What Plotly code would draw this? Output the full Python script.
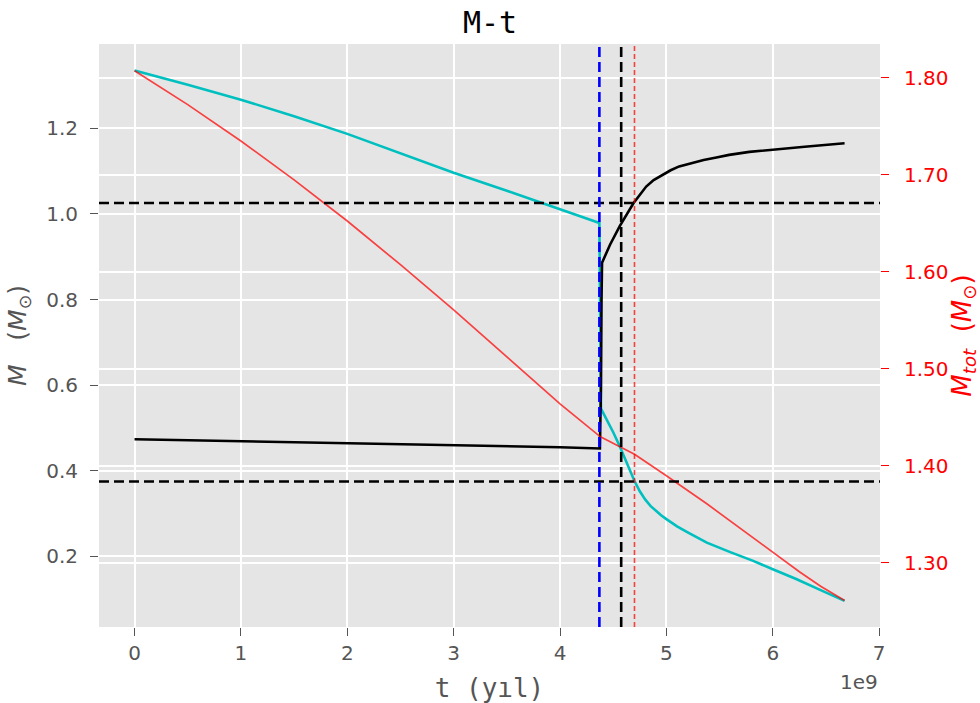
import plotly.graph_objects as go

# ---- data (time in units of 1e9 yr) ----
t_cyan = [0, 0.5, 1.0, 1.5, 2.0, 2.5, 3.0, 3.5, 3.84, 4.37, 4.385, 4.45, 4.5, 4.56,
          4.63, 4.70, 4.75, 4.80, 4.85, 4.90, 4.95, 5.0, 5.1, 5.2, 5.3, 5.38, 5.6,
          5.81, 6.0, 6.22, 6.45, 6.675]
m_cyan = [1.335, 1.302, 1.267, 1.228, 1.187, 1.142, 1.096, 1.054, 1.025, 0.979, 0.545,
          0.515, 0.490, 0.458, 0.418, 0.376, 0.352, 0.333, 0.318, 0.306, 0.296, 0.287,
          0.270, 0.256, 0.243, 0.232, 0.210, 0.190, 0.170, 0.147, 0.121, 0.096]

t_black = [0, 1, 2, 3, 4, 4.375, 4.385, 4.39, 4.395, 4.47, 4.56, 4.69, 4.75, 4.81,
           4.88, 4.97, 5.04, 5.12, 5.23, 5.35, 5.47, 5.59, 5.78, 5.97, 6.3, 6.675]
m_black = [0.4735, 0.469, 0.464, 0.459, 0.455, 0.452, 0.60, 0.80, 0.886, 0.928, 0.971,
           1.025, 1.046, 1.064, 1.079, 1.093, 1.102, 1.111, 1.119, 1.126, 1.132, 1.138,
           1.145, 1.150, 1.157, 1.165]

t_red = [0, 0.5, 1.0, 1.5, 2.0, 2.5, 3.0, 3.5, 4.0, 4.38, 4.56, 4.70, 4.85, 5.0,
         5.38, 5.85, 6.05, 6.25, 6.45, 6.675]
m_tot = [1.8075, 1.7725, 1.735, 1.695, 1.6525, 1.6075, 1.561, 1.513, 1.464, 1.430,
         1.420, 1.412, 1.401, 1.390, 1.361, 1.323, 1.307, 1.291, 1.276, 1.2614]

h_lines = [1.0255, 0.375]          # horizontal reference masses (left axis)
t_vline_blue = 4.37
t_vline_black = 4.575
t_vline_red = 4.70

x_ticks = [0, 1, 2, 3, 4, 5, 6, 7]
y_ticks = [0.2, 0.4, 0.6, 0.8, 1.0, 1.2]
y2_ticks = [1.30, 1.40, 1.50, 1.60, 1.70, 1.80]

SCALE = 1e9
GRAY = "#555555"
RED = "rgba(255,0,0,0.72)"
NB = "\u00a0"

fig = go.Figure()
fig.add_trace(go.Scatter(x=[t * SCALE for t in t_cyan], y=m_cyan, mode="lines",
                         line=dict(color="#00BFBF", width=2.6), showlegend=False))
fig.add_trace(go.Scatter(x=[t * SCALE for t in t_black], y=m_black, mode="lines",
                         line=dict(color="black", width=2.6), showlegend=False))
fig.add_trace(go.Scatter(x=[t * SCALE for t in t_red], y=m_tot, mode="lines",
                         yaxis="y2", line=dict(color=RED, width=1.7), showlegend=False))

shapes = []
for h in h_lines:
    shapes.append(dict(type="line", xref="paper", x0=0, x1=1, yref="y", y0=h, y1=h,
                       line=dict(color="black", width=2.6, dash="10px,5px")))
shapes.append(dict(type="line", xref="x", x0=t_vline_blue * SCALE, x1=t_vline_blue * SCALE,
                   yref="paper", y0=0, y1=1,
                   line=dict(color="#0000FF", width=2.6, dash="10px,5px")))
shapes.append(dict(type="line", xref="x", x0=t_vline_black * SCALE, x1=t_vline_black * SCALE,
                   yref="paper", y0=0, y1=1,
                   line=dict(color="black", width=2.6, dash="10px,5px")))
shapes.append(dict(type="line", xref="x", x0=t_vline_red * SCALE, x1=t_vline_red * SCALE,
                   yref="paper", y0=0, y1=1,
                   line=dict(color=RED, width=1.6, dash="5px,3px")))

tickfont = dict(family="DejaVu Sans", size=20, color=GRAY)

fig.update_layout(
    width=980, height=703,
    margin=dict(l=99, r=100, t=44, b=76),
    paper_bgcolor="white", plot_bgcolor="#E5E5E5",
    shapes=shapes,
    title=dict(text="M-t", x=0.5, xanchor="center", y=1 - 22 / 703, yanchor="middle",
               yref="container", font=dict(family="DejaVu Sans Mono", size=30, color="black")),
    xaxis=dict(range=[-0.334 * SCALE, 7.008 * SCALE], automargin=False,
               tickvals=[v * SCALE for v in x_ticks], ticktext=[str(v) for v in x_ticks],
               showgrid=True, gridcolor="white", gridwidth=1.6, zeroline=False,
               ticks="outside", ticklen=8, tickwidth=1.3, tickcolor=GRAY,
               tickfont=tickfont, ticklabelstandoff=0, showline=False,
               title=dict(text="t (yıl)", standoff=18,
                          font=dict(family="DejaVu Sans Mono", size=26, color=GRAY))),
    yaxis=dict(range=[0.035, 1.397], automargin=False,
               tickvals=y_ticks, ticktext=[f"{v:.1f}" for v in y_ticks],
               showgrid=True, gridcolor="white", gridwidth=1.6, zeroline=False,
               ticks="outside", ticklen=8, tickwidth=1.3, tickcolor=GRAY,
               tickfont=tickfont, ticklabelstandoff=8, showline=False,
               title=dict(text=f"<i>M</i>{NB * 3}(<i>M</i><sub>⊙</sub>)", standoff=12,
                          font=dict(family="DejaVu Sans", size=25, color=GRAY))),
    yaxis2=dict(range=[1.234, 1.835], overlaying="y", side="right", automargin=False,
                tickvals=y2_ticks, ticktext=[f"{v:.2f}" for v in y2_ticks],
                showgrid=True, gridcolor="white", gridwidth=1.6, zeroline=False,
                ticks="outside", ticklen=8, tickwidth=1.3, tickcolor="red",
                tickfont=dict(family="DejaVu Sans", size=20, color="red"),
                ticklabelstandoff=11, showline=False,
                title=dict(text=f"<i>M</i><sub><i>tot</i></sub>{NB * 2}(<i>M</i><sub>⊙</sub>)",
                           standoff=6, font=dict(family="DejaVu Sans", size=26, color="red"))),
    annotations=[dict(text="1e9", xref="paper", yref="paper", x=1, y=0, xanchor="right",
                      yanchor="middle", yshift=-55, showarrow=False,
                      font=dict(family="DejaVu Sans", size=20, color=GRAY))],
)

# remove the browser's default 8px body margin so the figure fills the window exactly
fig.write_html("out.html", config={"displayModeBar": False},
               post_script="document.body.style.margin='0';")
